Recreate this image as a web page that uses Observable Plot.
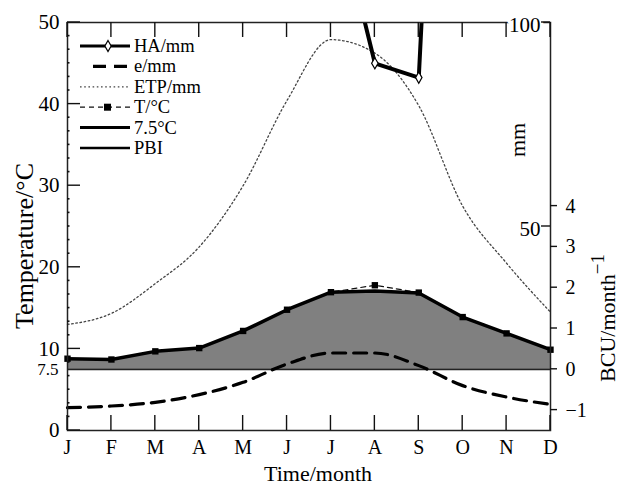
<!DOCTYPE html>
<html><head><meta charset="utf-8">
<script src="https://cdn.jsdelivr.net/npm/d3@7"></script>
<script src="https://cdn.jsdelivr.net/npm/@observablehq/plot@0.6"></script>
<style>
body{margin:0;background:#fff}
svg, svg text{font-family:"Liberation Serif","Times New Roman",serif !important}
</style>
</head><body><div id="chart"></div>
<script>
// ---- data ----
const months = ["J","F","M","A","M","J","J","A","S","O","N","D"];
const tempC  = [8.8, 8.7, 9.7, 10.1, 12.2, 14.8, 16.95, 17.8, 16.9, 13.9, 11.9, 9.9];
const pbiBCU = [0.26, 0.24, 0.44, 0.52, 0.94, 1.46, 1.89, 1.92, 1.87, 1.28, 0.88, 0.48];
const eMM    = [5.6, 6.0, 6.9, 8.8, 11.8, 16.3, 19.0, 19.0, 15.9, 11.0, 8.2, 6.4];
const etpMM  = [26, 28.7, 36, 45, 60, 80.9, 95.8, 92.5, 79.6, 55, 41, 29];
const haMonth = [6, 7, 8, 9];
const haMM    = [134, 90, 86.5, 300];
const tempTicks = [0, 10, 20, 30, 40, 50];
const tempMinor = d3.range(0, 50.01, 10/6).filter(v => Math.abs(v/10 - Math.round(v/10)) > 1e-6);
const mmTicks  = [50, 100];
const bcuTicks = [-1, 0, 1, 2, 3, 4];
const threshold = 7.5;

// conversions onto the temperature scale (mm axis 0–100 ↔ 0–50 °C; BCU 0 at 7.5 °C, 1 BCU = 5 °C)
const mmToT  = mm => mm / 2;
const bcuToT = b => threshold + 5 * b;

const idx = d3.range(12);
const FONT = "'Liberation Serif', 'Times New Roman', serif";
const W = 618, H = 485, mL = 67, mR = 68, mT = 22, mB = 55;

const st = {
  ha:  {stroke: "#000", strokeWidth: 4},
  e:   {stroke: "#000", strokeWidth: 3.2, strokeDasharray: "13,8"},
  etp: {stroke: "#444", strokeWidth: 1.3, strokeDasharray: "1.6,2.6"},
  t:   {stroke: "#111", strokeWidth: 1.2, strokeDasharray: "5,4"},
  thr: {stroke: "#222", strokeWidth: 1.8},
  pbi: {stroke: "#000", strokeWidth: 3.5}
};

const chart = Plot.plot({
  width: W, height: H,
  marginLeft: mL, marginRight: mR, marginTop: mT, marginBottom: mB,
  style: {fontFamily: FONT, fontSize: "20px", background: "white", color: "black"},
  x: {domain: [0, 11], axis: null},
  y: {domain: [0, 50], axis: null},
  marks: [
    Plot.areaY(idx, {x: i => i, y1: threshold, y2: i => bcuToT(pbiBCU[i]), fill: "#808080"}),
    Plot.ruleY([threshold], st.thr),
    Plot.line(idx, {x: i => i, y: i => mmToT(etpMM[i]), ...st.etp, curve: "monotone-x"}),
    Plot.line(idx, {x: i => i, y: i => mmToT(eMM[i]), ...st.e, curve: "monotone-x"}),
    Plot.line(idx, {x: i => i, y: i => tempC[i], ...st.t}),
    Plot.line(idx, {x: i => i, y: i => bcuToT(pbiBCU[i]), ...st.pbi}),
    Plot.dot(idx, {x: i => i, y: i => tempC[i], symbol: "square", r: 3.6, fill: "#000"}),
    Plot.line(haMonth, {x: d => d, y: (d, j) => mmToT(haMM[j]), ...st.ha, clip: true}),
    Plot.dot(haMonth, {x: d => d, y: (d, j) => mmToT(haMM[j]), symbol: "diamond", r: 3.4, fill: "white", stroke: "#000", strokeWidth: 1.2, clip: true}),
    Plot.frame({stroke: "#222", strokeWidth: 1.5}),
    Plot.axisX(idx, {anchor: "bottom", tickSize: 0, tickPadding: 9, tickFormat: i => months[i], fontSize: 20}),
    Plot.axisY(tempTicks, {anchor: "left", tickSize: 0, tickPadding: 8, fontSize: 21}),
    Plot.text([threshold], {y: d => d, frameAnchor: "left", text: d => String(d), dx: -9, textAnchor: "end", fontSize: 17}),
    Plot.axisY(bcuTicks.map(bcuToT), {anchor: "right", tickSize: 0, tickPadding: 15, fontSize: 20, tickFormat: t => { const b = Math.round((t - threshold) / 5); return b < 0 ? "\u2212" + (-b) : String(b); }}),
    Plot.text(mmTicks, {y: d => mmToT(d), frameAnchor: "right", text: d => String(d), dx: -10, dy: 3, textAnchor: "end", fontSize: 21, stroke: "white", strokeWidth: 7, paintOrder: "stroke", fill: "black"})
  ]
});

document.getElementById("chart").appendChild(chart);

// ---- tick marks drawn with the plot's own scales ----
const sx = chart.scale("x"), sy = chart.scale("y");
const X = v => sx.apply(v), Y = v => sy.apply(v);
const xL = X(0), xR = X(11), yB = Y(0), yT = Y(50);
const svg = d3.select(chart);
const tg = svg.append("g").attr("stroke", "#111").attr("stroke-width", 1.4).attr("fill", "none");
const seg = (x1, y1, x2, y2) => tg.append("line").attr("x1", x1).attr("y1", y1).attr("x2", x2).attr("y2", y2);
idx.forEach(i => { seg(X(i), yB, X(i), yB - 15); seg(X(i), yT, X(i), yT + 15); });
tempTicks.forEach(t => seg(xL, Y(t), xL + 13, Y(t)));
tempMinor.forEach(t => seg(xL, Y(t), xL + 2.5, Y(t)).attr("stroke-width", 1.6));
bcuTicks.forEach(b => seg(xR, Y(bcuToT(b)), xR + 7, Y(bcuToT(b))));
mmTicks.forEach(m => seg(xR - 9, Y(mmToT(m)), xR, Y(mmToT(m))));

// ---- titles & legend ----
const g = svg.append("g").attr("font-family", FONT).attr("fill", "black").attr("text-anchor", "start");

g.append("text").attr("transform", "translate(24,246) rotate(-90)")
  .attr("text-anchor", "middle").attr("dominant-baseline", "central").attr("font-size", 26).text("Temperature/°C");
g.append("text").attr("x", 318).attr("y", 481).attr("text-anchor", "middle").attr("font-size", 22).text("Time/month");
g.append("text").attr("transform", "translate(517,140) rotate(-90)")
  .attr("text-anchor", "middle").attr("dominant-baseline", "central").attr("font-size", 22).text("mm");
const bcu = g.append("text").attr("transform", "translate(607,318) rotate(-90)")
  .attr("text-anchor", "middle").attr("dominant-baseline", "central").attr("font-size", 22);
bcu.append("tspan").text("BCU/month");
bcu.append("tspan").attr("dy", "-0.55em").attr("font-size", 19).text("\u22121");

// legend
const lg = g.append("g").attr("font-size", 18.5);
const rows = [
  {label: "HA/mm", s: st.ha, mark: "diamond", x0: 80},
  {label: "e/mm", s: st.e, x0: 93},
  {label: "ETP/mm", s: st.etp, x0: 80},
  {label: "T/°C", s: st.t, mark: "square", x0: 80},
  {label: "7.5°C", s: {stroke: "#000", strokeWidth: 3}, x0: 80},
  {label: "PBI", s: {stroke: "#000", strokeWidth: 2.5}, x0: 80}
];
rows.forEach((r, k) => {
  const y = 46 + k * 20.4;
  const ln = lg.append("line").attr("x1", r.x0).attr("x2", 130).attr("y1", y).attr("y2", y)
    .attr("stroke", r.s.stroke).attr("stroke-width", r.s.strokeWidth === 4 ? 3.2 : r.s.strokeWidth);
  if (r.s.strokeDasharray) ln.attr("stroke-dasharray", r.s.strokeDasharray);
  if (r.mark === "diamond") {
    lg.append("path").attr("d", d3.symbol(d3.symbolDiamond, 34)()).attr("transform", `translate(108,${y})`)
      .attr("fill", "white").attr("stroke", "#000").attr("stroke-width", 1.2);
  }
  if (r.mark === "square") {
    lg.append("rect").attr("x", 104).attr("y", y - 3.5).attr("width", 7).attr("height", 7).attr("fill", "#000");
  }
  lg.append("text").attr("x", 134).attr("y", y).attr("text-anchor", "start").attr("dominant-baseline", "central").text(r.label);
});
</script>
</body></html>
